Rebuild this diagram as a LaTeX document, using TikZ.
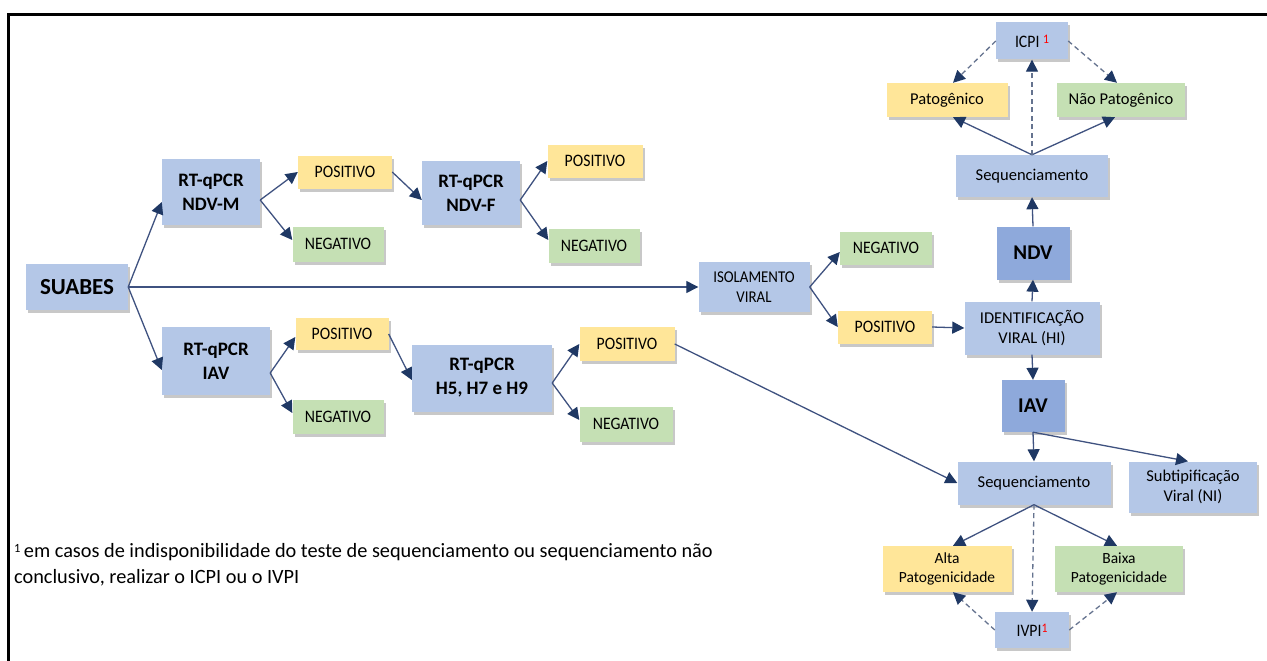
\documentclass[tikz,border=0pt]{standalone}
\usepackage{fontspec}
\setmainfont{Carlito}
\newfontfamily\condfont[FakeStretch=0.9]{Carlito}
\usetikzlibrary{arrows.meta,shadows,calc}
\definecolor{bblue}{HTML}{B4C7E7}
\definecolor{bdark}{HTML}{8EA9DB}
\definecolor{byel}{HTML}{FFE699}
\definecolor{bgrn}{HTML}{C5E0B4}
\definecolor{lnc}{HTML}{3F5280}
\definecolor{arc}{HTML}{1F3864}
\definecolor{dshc}{HTML}{65738F}
\newcommand\myfS{\condfont\fontsize{17.5}{19}\selectfont}
\newcommand\myfC{\condfont\fontsize{16.5}{20}\selectfont}
\newcommand\myfI{\fontsize{15.5}{19}\selectfont}
\newcommand\myfM{\fontsize{16.5}{20}\selectfont}
\newcommand\myfB{\bfseries\fontsize{19}{24}\selectfont}
\newcommand\redone{\raisebox{0.5ex}{\fontsize{13}{13}\selectfont\color{red}1}}
\begin{document}
\begin{tikzpicture}[x=1pt,y=-1pt,
  box/.style={inner sep=1pt, align=center, drop shadow={shadow xshift=2pt, shadow yshift=-3pt, opacity=0.3, fill=black!70}},
  bl/.style={box, fill=bblue},
  dk/.style={box, fill=bdark},
  ye/.style={box, fill=byel},
  gr/.style={box, fill=bgrn},
  arr/.style={draw=lnc, line width=1.3pt, -{Triangle[length=12pt,width=12pt,color=arc]}},
  dsh/.style={arr, draw=dshc, dash pattern=on 5pt off 3.5pt}]
\useasboundingbox (0,0) rectangle (1267,661);
\fill[white] (0,0) rectangle (1267,661);
\draw[line width=2.6pt] (8.5,661) -- (8.5,14.5) -- (1267,14.5);

% left part
\node[bl, minimum width=102pt, minimum height=46pt, font=\bfseries\fontsize{23}{26}\selectfont] (suabes) at (77,287) {SUABES};
\node[bl, minimum width=98pt, minimum height=66pt, font=\myfB] (ndvm) at (211,192) {RT-qPCR\\NDV-M};
\node[ye, minimum width=94pt, minimum height=33pt, font=\myfS] (pos1) at (345,172) {POSITIVO};
\node[gr, minimum width=91pt, minimum height=35pt, font=\myfS] (neg1) at (338,244) {NEGATIVO};
\node[bl, minimum width=108pt, minimum height=68pt, font=\myfB] (iavq) at (216,361) {RT-qPCR\\IAV};
\node[ye, minimum width=93pt, minimum height=32pt, font=\myfS] (pos2) at (342,334) {POSITIVO};
\node[gr, minimum width=91pt, minimum height=34pt, font=\myfS] (neg2) at (338,417) {NEGATIVO};
\node[bl, minimum width=98pt, minimum height=64pt, font=\myfB] (ndvf) at (471,193) {RT-qPCR\\NDV-F};
\node[ye, minimum width=95pt, minimum height=33pt, font=\myfS] (pos3) at (595,161) {POSITIVO};
\node[gr, minimum width=91pt, minimum height=34pt, font=\myfS] (neg3) at (594,246) {NEGATIVO};
\node[bl, minimum width=140pt, minimum height=67pt, font=\myfB] (h5) at (482,378) {RT-qPCR\\H5, H7 e H9};
\node[ye, minimum width=95pt, minimum height=34pt, font=\myfS] (pos4) at (627,344) {POSITIVO};
\node[gr, minimum width=93pt, minimum height=35pt, font=\myfS] (neg4) at (626,424) {NEGATIVO};

% middle / right
\node[bl, minimum width=111pt, minimum height=50pt, font=\myfC] (iso) at (754,287) {ISOLAMENTO\\VIRAL};
\node[gr, minimum width=92pt, minimum height=33pt, font=\myfS] (neg5) at (886,248) {NEGATIVO};
\node[ye, minimum width=94pt, minimum height=33pt, font=\myfS] (pos5) at (885,327) {POSITIVO};
\node[bl, minimum width=135pt, minimum height=53pt, font=\fontsize{16.5}{20}\selectfont] (ident) at (1032,328) {IDENTIFICAÇÃO\\VIRAL (HI)};
\node[dk, minimum width=73pt, minimum height=53pt, font=\bfseries\fontsize{21}{24}\selectfont] (ndv) at (1033,253) {NDV};
\node[dk, minimum width=63pt, minimum height=52pt, font=\bfseries\fontsize{21}{24}\selectfont] (iav) at (1033,406) {IAV};
\node[bl, minimum width=152pt, minimum height=42pt, font=\myfM] (seqt) at (1032,176) {Sequenciamento};
\node[ye, minimum width=121pt, minimum height=34pt, font=\myfM] (pat) at (947,100) {Patogênico};
\node[gr, minimum width=128pt, minimum height=34pt, font=\myfM] (npat) at (1121,100) {Não Patogênico};
\node[bl, minimum width=72pt, minimum height=37pt, font=\myfS] (icpi) at (1032,41) {ICPI \redone};
\node[bl, minimum width=153pt, minimum height=43pt, font=\myfM] (seqb) at (1034,483) {Sequenciamento};
\node[bl, minimum width=128pt, minimum height=51pt, font=\myfM] (subt) at (1193,487) {Subtipificação\\Viral (NI)};
\node[ye, minimum width=129pt, minimum height=46pt, font=\myfI] (alta) at (947,569) {Alta\\Patogenicidade};
\node[gr, minimum width=128pt, minimum height=46pt, font=\myfI] (baixa) at (1119,569) {Baixa\\Patogenicidade};
\node[bl, minimum width=74pt, minimum height=36pt, font=\myfS] (ivpi) at (1032,630) {IVPI\redone};

% footnote (base anchor = baseline of last line)
\node[anchor=base west, align=left, inner sep=0pt, font=\fontsize{20.3}{26}\selectfont] (fn) at (14,583) {\raisebox{0.45ex}{\fontsize{12.5}{12.5}\selectfont 1}\,em casos de indisponibilidade do teste de sequenciamento ou sequenciamento não\\conclusivo, realizar o ICPI ou o IVPI};

% connectors
\draw[arr] (suabes.east) -- ([yshift=-10pt]ndvm.west);
\draw[arr] (suabes.east) -- ([yshift=-9pt]iavq.west);
\draw[arr] (suabes.east) -- (iso.west);
\draw[arr] ([yshift=-8pt]ndvm.east) -- (pos1.west);
\draw[arr] ([yshift=-8pt]ndvm.east) -- ([yshift=4pt]neg1.west);
\draw[arr] (pos1.east) -- ([yshift=-7pt]ndvf.west);
\draw[arr] ([yshift=-7pt]ndvf.east) -- (pos3.west);
\draw[arr] ([yshift=-7pt]ndvf.east) -- ([yshift=6pt]neg3.west);
\draw[arr] ([yshift=-12pt]iavq.east) -- ([yshift=-3pt]pos2.west);
\draw[arr] ([yshift=-12pt]iavq.east) -- ([yshift=4pt]neg2.west);
\draw[arr] (pos2.east) -- ([yshift=-2pt]h5.west);
\draw[arr] ([yshift=-5pt]h5.east) -- (pos4.west);
\draw[arr] ([yshift=-5pt]h5.east) -- ([yshift=4pt]neg4.west);
\draw[arr] (pos4.east) -- (seqb.west);
\draw[arr] (iso.east) -- ([yshift=-4pt]neg5.west);
\draw[arr] (iso.east) -- (pos5.west);
\draw[arr] (pos5.east) -- (ident.west);
\draw[arr] (ident.north) -- (ndv.south);
\draw[arr] (ident.south) -- (iav.north);
\draw[arr] (ndv.north) -- (seqt.south);
\draw[arr] (seqt.north) -- ([xshift=6pt]pat.south);
\draw[arr] (seqt.north) -- ([xshift=-6pt]npat.south);
\draw[dsh] (seqt.north) -- (icpi.south);
\draw[dsh] (icpi.west) -- ([xshift=6pt]pat.north);
\draw[dsh] (icpi.east) -- ([xshift=-4pt]npat.north);
\draw[arr] (iav.south) -- (seqb.north);
\draw[arr] (iav.south) -- ([xshift=-5pt]subt.north);
\draw[arr] (seqb.south) -- ([xshift=6pt]alta.north);
\draw[arr] (seqb.south) -- ([xshift=-2pt]baixa.north);
\draw[dsh] (seqb.south) -- (ivpi.north);
\draw[dsh] (ivpi.west) -- ([xshift=6pt]alta.south);
\draw[dsh] (ivpi.east) -- ([xshift=-2pt]baixa.south);
\end{tikzpicture}
\end{document}
